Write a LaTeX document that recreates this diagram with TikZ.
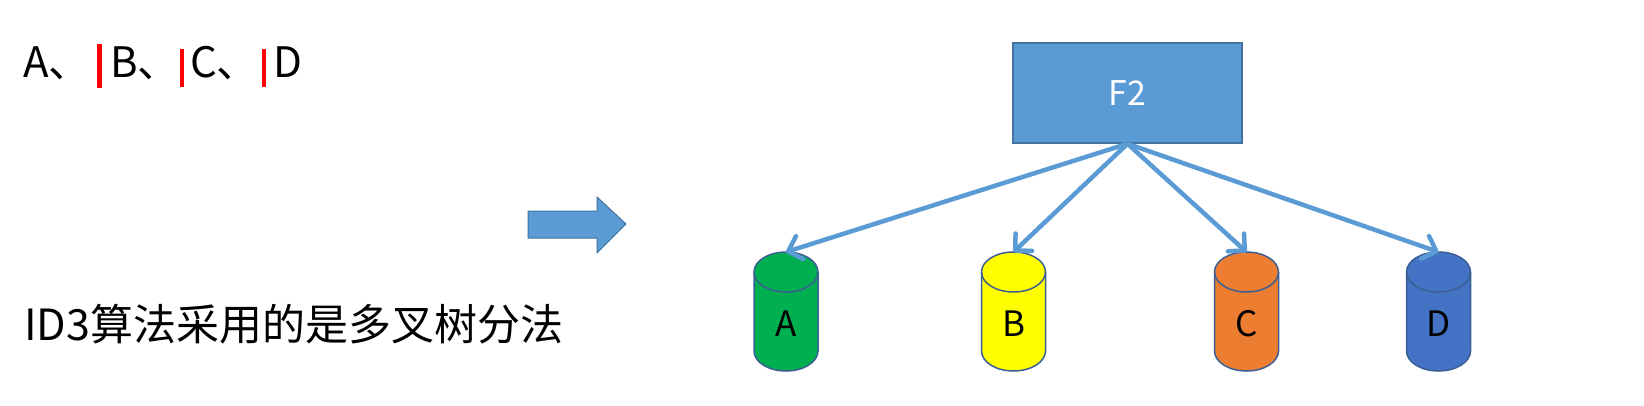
\documentclass[tikz,border=0pt]{standalone}
\usepackage{fontspec}
\setmainfont{Noto Sans CJK SC}
\usepackage{tikz}
\usetikzlibrary{positioning, arrows.meta}
\usepackage{xcolor}
\definecolor{accblue}{HTML}{5B9BD5}
\definecolor{accedge}{HTML}{41719C}
\definecolor{cyledge}{HTML}{3B5F94}
\definecolor{cgreen}{HTML}{00B050}
\definecolor{cyellow}{HTML}{FFFF00}
\definecolor{corange}{HTML}{ED7D31}
\definecolor{cblue}{HTML}{4472C4}

\begin{document}
\begin{tikzpicture}[
    x=1pt, y=-1pt,
    bigtxt/.style={font=\fontsize{42}{50}\selectfont, inner sep=0pt, anchor=base west},
    cursor/.style={fill=red},
    root/.style={rectangle, draw=accedge, fill=accblue, line width=1.5pt, minimum width=229pt, minimum height=100pt, text=white, font=\fontsize{34}{40}\selectfont},
    drumline/.style={draw=cyledge, line width=1.5pt},
    drumtxt/.style={rectangle, inner sep=0pt, minimum width=64pt, minimum height=119pt, anchor=north, text height=50pt, text depth=0pt, font=\fontsize{35}{42}\selectfont},
    link/.style={-{Straight Barb[length=12pt, width=24pt, round]}, draw=accblue, line width=4.5pt}
]
\useasboundingbox (0,0) rectangle (1644,405);

% top line of letters
\foreach \t/\x [count=\i] in {A、/23, B、/110, C、/190, D/273}
    \node[bigtxt] (top\i) at (\x,77) {\t};
\fill[cursor] (97,44) rectangle (102,88);
\fill[cursor] (180,49) rectangle (184,87);
\fill[cursor] (262,49) rectangle (266,87);

\node[bigtxt, font=\fontsize{43}{52}\selectfont] (note) at (24,340) {ID3算法采用的是多叉树分法};

% block arrow
\draw[fill=accblue, draw=accedge, line width=1pt]
    (528,211) -- (597,211) -- (597,197) -- (626,224) -- (597,253) -- (597,238) -- (528,238) -- cycle;

\node[root] (f2) at (1127.5,93) {F2};

% cylinders
\foreach \n/\x/\c/\t in {a/786/cgreen/A, b/1013.5/cyellow/B, c/1246.5/corange/C, d/1438.5/cblue/D} {
    \filldraw[drumline, fill=\c] (\x-32,272) -- (\x-32,351)
        arc[start angle=180, end angle=360, x radius=32pt, y radius=20pt]
        -- (\x+32,272) arc[start angle=0, end angle=180, x radius=32pt, y radius=20pt] -- cycle;
    \draw[drumline] (\x-32,272) arc[start angle=180, end angle=360, x radius=32pt, y radius=20pt];
    \node[drumtxt] (c\n) at (\x,252) {\t};
}

\draw[link] (f2.south) -- (ca.north);
\draw[link] (f2.south) -- (cb.north);
\draw[link] (f2.south) -- (cc.north);
\draw[link] (f2.south) -- (cd.north);
\end{tikzpicture}
\end{document}
